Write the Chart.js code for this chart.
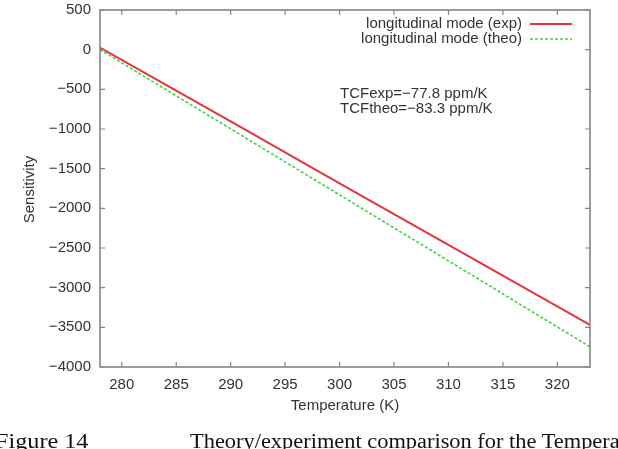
<!DOCTYPE html>
<html>
<head>
<meta charset="utf-8">
<script src="https://cdn.jsdelivr.net/npm/chart.js@4/dist/chart.umd.min.js"></script>
<style>
  html, body { margin: 0; padding: 0; background: #fff; }
  #wrap { position: relative; width: 618px; height: 449px; overflow: hidden; }
  canvas { position: absolute; left: 0; top: 0; }
  .cap { position: absolute; font-family: "Liberation Serif", "Times New Roman", serif; color: #111; white-space: nowrap; line-height: 1; transform-origin: left top; }
</style>
</head>
<body>
<div id="wrap">
  <canvas id="c" width="618" height="449"></canvas>
  <div class="cap" id="fig" style="left:-5px; top:430px; font-size:22px; transform:scaleX(1.1);">Figure 14</div>
  <div class="cap" id="desc" style="left:190px; top:431px; font-size:20px; transform:scaleX(1.12);">Theory/experiment comparison for the Temperature</div>
</div>
<script>
// ---- data ----
const temperatures = [278, 290, 300, 310, 323];
const sensExp  = [25, -905, -1685, -2460, -3470];
const sensTheo = [0, -998, -1830, -2662, -3745];
const seriesLabels = ['longitudinal mode (exp)', 'longitudinal mode (theo)'];
const xTickValues = [280, 285, 290, 295, 300, 305, 310, 315, 320];
const yTickValues = [500, 0, -500, -1000, -1500, -2000, -2500, -3000, -3500, -4000];
const xTitle = 'Temperature (K)';
const yTitle = 'Sensitivity';
const noteLines = ['TCFexp=\u221277.8 ppm/K', 'TCFtheo=\u221283.3 ppm/K'];

const FONT = '"Liberation Sans", Arial, Helvetica, sans-serif';
const TXT = '#333';
const AXIS = '#858585';
const fmt = v => (v < 0 ? '\u2212' + Math.abs(v) : String(v));

const toPts = (xs, ys) => xs.map((x, i) => ({ x, y: ys[i] }));

const decor = {
  id: 'decor',
  afterDatasetsDraw(chart) {
    const { ctx, chartArea: a, scales } = chart;
    ctx.save();
    // frame
    ctx.strokeStyle = AXIS;
    ctx.lineWidth = 1.6;
    ctx.strokeRect(a.left, a.top, a.right - a.left, a.bottom - a.top);
    // inward ticks, mirrored
    ctx.lineWidth = 1.2;
    const tl = 5;
    ctx.beginPath();
    xTickValues.forEach(v => {
      const px = scales.x.getPixelForValue(v);
      ctx.moveTo(px, a.bottom); ctx.lineTo(px, a.bottom - tl);
      ctx.moveTo(px, a.top); ctx.lineTo(px, a.top + tl);
    });
    yTickValues.forEach(v => {
      const py = scales.y.getPixelForValue(v);
      ctx.moveTo(a.left, py); ctx.lineTo(a.left + tl, py);
      ctx.moveTo(a.right, py); ctx.lineTo(a.right - tl, py);
    });
    ctx.stroke();

    ctx.fillStyle = TXT;
    ctx.font = '15px ' + FONT;
    // legend (gnuplot style, top right)
    ctx.textAlign = 'right';
    ctx.textBaseline = 'middle';
    chart.data.datasets.forEach((ds, i) => {
      const y = a.top + 14 + i * 15;
      ctx.fillText(ds.label, a.right - 68, y);
      ctx.save();
      ctx.strokeStyle = ds.borderColor;
      ctx.lineWidth = ds.borderWidth;
      ctx.setLineDash(ds.borderDash || []);
      ctx.beginPath();
      ctx.moveTo(a.right - 60, y);
      ctx.lineTo(a.right - 18, y);
      ctx.stroke();
      ctx.restore();
    });
    // annotation
    ctx.textAlign = 'left';
    noteLines.forEach((t, i) => ctx.fillText(t, a.left + 240, a.top + 84 + i * 15));
    // axis titles
    ctx.textAlign = 'center';
    ctx.fillText(xTitle, (a.left + a.right) / 2, a.bottom + 39);
    ctx.save();
    ctx.translate(30, (a.top + a.bottom) / 2 + 1);
    ctx.rotate(-Math.PI / 2);
    ctx.fillText(yTitle, 0, 0);
    ctx.restore();
    ctx.restore();
  }
};

new Chart(document.getElementById('c'), {
  type: 'scatter',
  data: {
    datasets: [
      {
        label: seriesLabels[0],
        data: toPts(temperatures, sensExp),
        showLine: true,
        borderColor: '#e3343c',
        borderWidth: 2,
        pointRadius: 0,
        fill: false,
        tension: 0
      },
      {
        label: seriesLabels[1],
        data: toPts(temperatures, sensTheo),
        showLine: true,
        borderColor: '#3fd33f',
        borderWidth: 1.6,
        borderDash: [3, 2],
        pointRadius: 0,
        fill: false,
        tension: 0
      }
    ]
  },
  options: {
    responsive: false,
    devicePixelRatio: 1,
    animation: false,
    layout: { padding: { left: 0, top: 10, right: 28, bottom: 0 } },
    plugins: { legend: { display: false }, tooltip: { enabled: false } },
    scales: {
      x: {
        type: 'linear',
        min: 278,
        max: 323,
        afterBuildTicks: s => { s.ticks = xTickValues.map(v => ({ value: v })); },
        afterFit: s => { s.height = 82; s.paddingLeft = 0; s.paddingRight = 0; },
        grid: { display: false, drawTicks: false },
        border: { display: false },
        ticks: { padding: 9, color: TXT, font: { family: FONT, size: 15 }, callback: v => fmt(v), maxRotation: 0, autoSkip: false }
      },
      y: {
        type: 'linear',
        min: -4000,
        max: 500,
        afterBuildTicks: s => { s.ticks = yTickValues.map(v => ({ value: v })); },
        afterFit: s => { s.width = 100; s.paddingTop = 0; s.paddingBottom = 0; },
        grid: { display: false, drawTicks: false },
        border: { display: false },
        ticks: { padding: 9, color: TXT, font: { family: FONT, size: 15 }, callback: v => fmt(v), autoSkip: false }
      }
    }
  },
  plugins: [decor]
});
</script>
</body>
</html>
